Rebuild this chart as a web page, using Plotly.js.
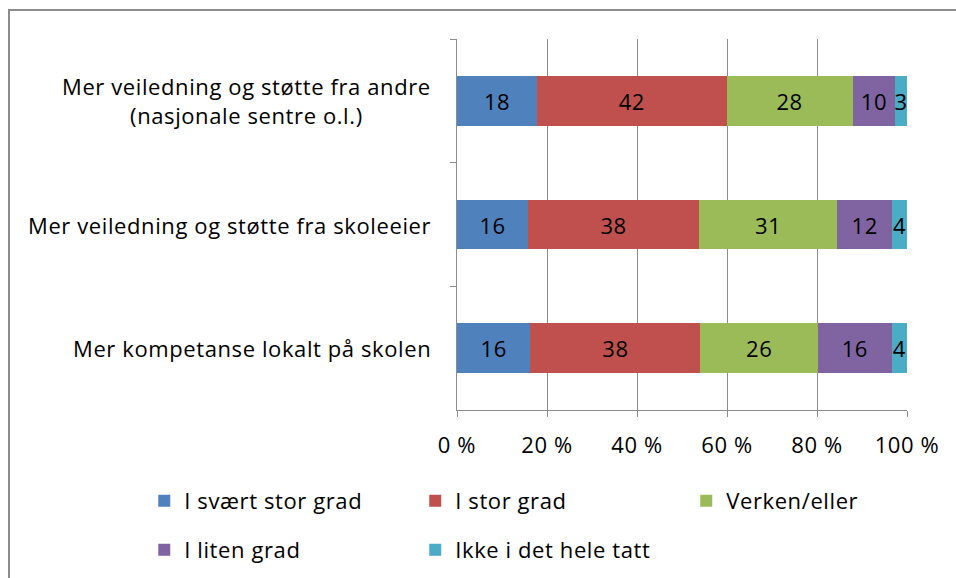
<!DOCTYPE html>
<html>
<head>
<meta charset="utf-8">
<script src="https://cdn.plot.ly/plotly-3.0.1.min.js"></script>
<style>
html,body{margin:0;padding:0;background:#fff;}
#chart{width:956px;height:578px;}
svg text{letter-spacing:0.6px;}
</style>
</head>
<body>
<div id="chart"></div>
<script>
// Categories (top to bottom)
const categories = [
  "Mer veiledning og støtte fra andre<br>(nasjonale sentre o.l.)",
  "Mer veiledning og støtte fra skoleeier",
  "Mer kompetanse lokalt på skolen"
];
const seriesNames = ["I svært stor grad", "I stor grad", "Verken/eller", "I liten grad", "Ikke i det hele tatt"];
// Estimated exact shares (percent) per category
const svaertStor = [17.8, 15.8, 16.3];
const stor       = [42.1, 38.0, 37.8];
const verken     = [28.0, 30.7, 26.1];
const liten      = [9.5, 12.2, 16.4];
const ikke       = [2.6, 3.3, 3.4];
// Data labels shown on bars
const lblSvaertStor = ["18", "16", "16"];
const lblStor       = ["42", "38", "38"];
const lblVerken     = ["28", "31", "26"];
const lblLiten      = ["10", "12", "16"];
const lblIkke       = ["3", "4", "4"];
const xTicks = [0, 20, 40, 60, 80, 100];

const colors = ["#4F81BD", "#C0504D", "#9BBB59", "#8064A2", "#4BACC6"];
const values = [svaertStor, stor, verken, liten, ikke];
const labels = [lblSvaertStor, lblStor, lblVerken, lblLiten, lblIkke];
const FONT = "'Open Sans', 'Noto Sans', sans-serif";
const FS = 22;

const traces = seriesNames.map((name, i) => ({
  type: "bar",
  orientation: "h",
  name: name,
  y: categories,
  x: values[i],
  text: labels[i],
  textposition: "inside",
  insidetextanchor: "middle",
  textangle: 0,
  constraintext: "none",
  cliponaxis: false,
  textfont: {family: FONT, size: FS, color: "#000"},
  marker: {color: colors[i], line: {width: 0}},
  legend: i < 3 ? "legend" : "legend2",
  hoverinfo: "x+y+name"
}));

const annotations = categories.map(c => ({
  xref: "paper", yref: "y", x: 0, y: c,
  xanchor: "right", yanchor: "middle", xshift: -24,
  text: c, showarrow: false, align: "center",
  font: {family: FONT, size: FS, color: "#000"}
}));

const legendCommon = {
  orientation: "h", xanchor: "left", yanchor: "middle",
  entrywidth: 226, entrywidthmode: "pixels",
  font: {family: FONT, size: FS, color: "#000"},
  bgcolor: "rgba(0,0,0,0)", traceorder: "normal"
};

const layout = {
  width: 956, height: 578,
  margin: {l: 457, r: 49, t: 39, b: 168, autoexpand: false},
  paper_bgcolor: "#fff", plot_bgcolor: "#fff",
  barmode: "stack",
  bargap: 0.6,
  font: {family: FONT, size: FS, color: "#000"},
  xaxis: {
    range: [0, 100], tickvals: xTicks, ticktext: xTicks.map(v => v + " %"),
    showgrid: true, gridcolor: "#8C8C8C", gridwidth: 1,
    showline: true, linecolor: "#8C8C8C", linewidth: 1,
    ticks: "outside", ticklen: 6, tickcolor: "#8C8C8C",
    ticklabelstandoff: 10, zeroline: false,
    tickfont: {family: FONT, size: FS, color: "#000"}
  },
  yaxis: {
    type: "category", categoryarray: categories, categoryorder: "array",
    autorange: "reversed",
    showticklabels: false, tickson: "boundaries",
    ticks: "outside", ticklen: 6, tickcolor: "#8C8C8C",
    showline: true, linecolor: "#8C8C8C", linewidth: 1,
    showgrid: false, zeroline: false
  },
  showlegend: true,
  legend: Object.assign({x: -0.695, y: -0.245}, legendCommon),
  legend2: Object.assign({x: -0.695, y: -0.377}, legendCommon),
  annotations: annotations,
  shapes: [{
    type: "rect", xref: "paper", yref: "paper",
    x0: (9 - 457) / 450, x1: (1000 - 457) / 450,
    y0: (410 - 620) / 371, y1: (410 - 10) / 371,
    line: {color: "#8C8C8C", width: 2}, fillcolor: "rgba(0,0,0,0)", layer: "below"
  }]
};

Plotly.newPlot("chart", traces, layout, {displayModeBar: false, staticPlot: true});
</script>
</body>
</html>
